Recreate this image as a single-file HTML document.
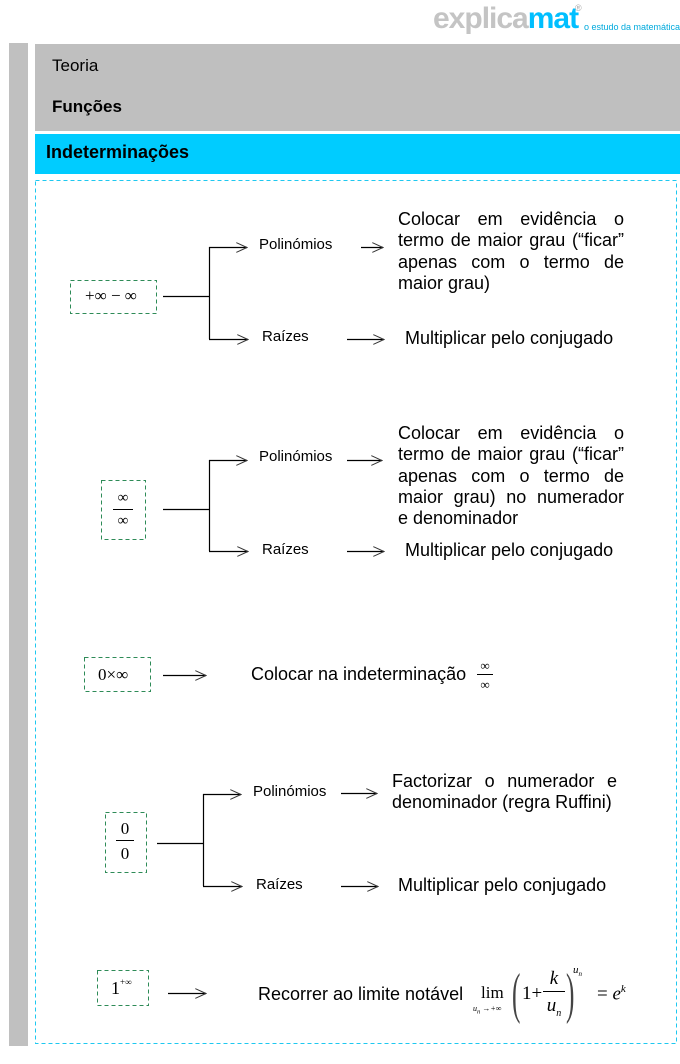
<!DOCTYPE html>
<html><head><meta charset="utf-8"><style>
body{margin:0;width:680px;height:1064px;position:relative;background:#fff;font-family:"Liberation Sans",sans-serif;overflow:hidden}
.a{position:absolute;white-space:nowrap;color:#000}
.t{font-size:18px}
.s{font-size:15px}
.j{position:absolute;font-size:18px;line-height:21.3px;text-align:justify;text-align-last:justify}
.j span{display:block;white-space:nowrap}
.m{font-family:"Liberation Serif",serif}
.fr{position:absolute;font-family:"Liberation Serif",serif;text-align:center;line-height:1}
</style></head><body>
<div style="position:absolute;left:9px;top:43px;width:19px;height:1003px;background:#c0c0c0"></div>
<div style="position:absolute;left:35px;top:44px;width:645px;height:87px;background:#bfbfbf"></div>
<div style="position:absolute;left:35px;top:134px;width:645px;height:40px;background:#00ccff"></div>
<div class="a" style="left:52px;top:56px;font-size:17px">Teoria</div>
<div class="a" style="left:52px;top:97px;font-size:17px;font-weight:bold">Funções</div>
<div class="a" style="left:46px;top:142px;font-size:18px;font-weight:bold">Indeterminações</div>
<div class="a" style="left:433px;top:2px;font-size:30px;font-weight:bold;color:#c4c4c4;letter-spacing:-1px">explica<span style="color:#00bfff">mat</span></div>
<div class="a" style="left:575px;top:3px;font-size:9px;color:#aaa">®</div>
<div class="a" style="left:584px;top:22px;font-size:9px;color:#00aadd">o estudo da matemática</div>

<svg width="680" height="1064" style="position:absolute;left:0;top:0">
<defs><marker id="ar" markerWidth="12" markerHeight="10" refX="11" refY="5" orient="auto" markerUnits="userSpaceOnUse"><path d="M0,0 L11,5 L0,10" fill="none" stroke="#333" stroke-width="1"/></marker></defs>
<rect x="35.5" y="180.5" width="641" height="863" fill="none" stroke="#1ec8f0" stroke-dasharray="4,3"/>
<g fill="none" stroke="#2e8b57" stroke-dasharray="4,3">
<rect x="70.5" y="280.5" width="86" height="33"/>
<rect x="101.5" y="480.5" width="44" height="59"/>
<rect x="84.5" y="657.5" width="66" height="34"/>
<rect x="105.5" y="812.5" width="41" height="60"/>
<rect x="97.5" y="970.5" width="51" height="35"/>
</g>
<g fill="none" stroke="#000" stroke-width="1.2">
<path d="M163,296.5 H209 M209.5,247 V339"/>
<path d="M209,247.5 H247" marker-end="url(#ar)"/><path d="M209,339.5 H248" marker-end="url(#ar)"/>
<path d="M361,247.5 H383" marker-end="url(#ar)"/><path d="M347,339.5 H384" marker-end="url(#ar)"/>
<path d="M163,509.5 H209 M209.5,460 V551"/>
<path d="M209,460.5 H247" marker-end="url(#ar)"/><path d="M209,551.5 H248" marker-end="url(#ar)"/>
<path d="M347,460.5 H382" marker-end="url(#ar)"/><path d="M347,551.5 H384" marker-end="url(#ar)"/>
<path d="M163,675.5 H206" marker-end="url(#ar)"/>
<path d="M157,843.5 H204 M203.5,794 V886"/>
<path d="M203,794.5 H241" marker-end="url(#ar)"/><path d="M203,886.5 H242" marker-end="url(#ar)"/>
<path d="M341,793.5 H377" marker-end="url(#ar)"/><path d="M341,886.5 H378" marker-end="url(#ar)"/>
<path d="M168,993.5 H206" marker-end="url(#ar)"/>
</g>
</svg>

<div class="a m" style="left:85px;top:286px;font-size:17px">+∞ − ∞</div>
<div class="a s" style="left:259px;top:236px">Polinómios</div>
<div class="j" style="left:398px;top:209px;width:226px"><span>Colocar em evidência o</span><span>termo de maior grau (“ficar”</span><span>apenas com o termo de</span><span style="text-align-last:left">maior grau)</span></div>
<div class="a s" style="left:262px;top:328px">Raízes</div>
<div class="a t" style="left:405px;top:328px">Multiplicar pelo conjugado</div>

<div class="fr" style="left:113px;top:491px;width:20px;font-size:15px">∞<div style="border-top:1px solid #000;margin:3px 0 4px"></div>∞</div>
<div class="a s" style="left:259px;top:448px">Polinómios</div>
<div class="j" style="left:398px;top:423px;width:226px"><span>Colocar em evidência o</span><span>termo de maior grau (“ficar”</span><span>apenas com o termo de</span><span>maior grau) no numerador</span><span style="text-align-last:left">e denominador</span></div>
<div class="a s" style="left:262px;top:541px">Raízes</div>
<div class="a t" style="left:405px;top:540px">Multiplicar pelo conjugado</div>

<div class="a m" style="left:98px;top:665px;font-size:17px">0×∞</div>
<div class="a t" style="left:251px;top:664px">Colocar na indeterminação</div>
<div class="fr" style="left:477px;top:659px;width:16px;font-size:13px">∞<div style="border-top:1px solid #000;margin:2px 0 3px"></div>∞</div>

<div class="fr" style="left:116px;top:820px;width:18px;font-size:17px">0<div style="border-top:1px solid #000;margin:3px 0 4px"></div>0</div>
<div class="a s" style="left:253px;top:783px">Polinómios</div>
<div class="j" style="left:392px;top:771px;width:225px"><span>Factorizar o numerador e</span><span style="text-align-last:left">denominador (regra Ruffini)</span></div>
<div class="a s" style="left:256px;top:876px">Raízes</div>
<div class="a t" style="left:398px;top:875px">Multiplicar pelo conjugado</div>

<div class="a m" style="left:111px;top:977px;font-size:18px">1<sup style="font-size:9px;vertical-align:9px">+∞</sup></div>
<div class="a t" style="left:258px;top:984px">Recorrer ao limite notável</div>
<div class="a m" style="left:481px;top:983px;font-size:17px">lim</div>
<div class="a m" style="left:473px;top:1004px;font-size:8px;font-style:italic">u<sub>n</sub> →+∞</div>
<div class="a m" style="left:512px;top:962px;font-size:56px;color:#444;transform:scaleX(0.45);transform-origin:left">(</div>
<div class="a m" style="left:522px;top:983px;font-size:19px">1+</div>
<div class="fr" style="left:543px;top:969px;width:22px;font-size:19px;font-style:italic">k<div style="border-top:1px solid #000;margin:3px 0 4px"></div>u<sub style="font-size:10px">n</sub></div>
<div class="a m" style="left:566px;top:962px;font-size:56px;color:#444;transform:scaleX(0.45);transform-origin:left">)</div>
<div class="a m" style="left:573px;top:964px;font-size:11px;font-style:italic">u<sub style="font-size:7px">n</sub></div>
<div class="a m" style="left:597px;top:983px;font-size:19px">= <i>e</i><sup style="font-size:11px;font-style:italic">k</sup></div>
</body></html>
